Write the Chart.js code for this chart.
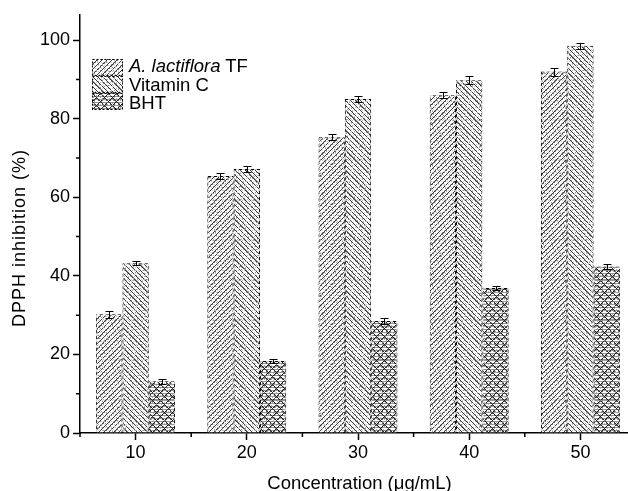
<!DOCTYPE html>
<html>
<head>
<meta charset="utf-8">
<script src="https://cdn.jsdelivr.net/npm/chart.js@4/dist/chart.umd.min.js"></script>
<style>
  html, body { margin:0; padding:0; background:#fff; overflow:hidden; }
  #wrap { position:relative; width:628px; height:491px; overflow:hidden; }
  #c { position:absolute; left:0; top:0; }
  .txt { position:absolute; font-family:'Liberation Sans', Arial, Helvetica, sans-serif; color:#000; white-space:nowrap; }
  .sw { position:absolute; }
</style>
</head>
<body>
<div id="wrap">
  <canvas id="c" width="640" height="500" style="width:640px;height:500px"></canvas>
  <div class="txt" id="ytitle"></div>
  <div class="txt" id="xtitle"></div>
  <div id="legend"></div>
</div>
<script>
// ---------- data ----------
const categories = ['10', '20', '30', '40', '50'];
const seriesNames = ['A. lactiflora TF', 'Vitamin C', 'BHT'];
const tfValues   = [30.2, 65.4, 75.3, 86.0, 92.0];
const tfErrors   = [0.8, 0.7, 0.8, 0.8, 1.0];
const vitCValues = [43.2, 67.2, 85.0, 89.8, 98.6];
const vitCErrors = [0.5, 0.8, 0.7, 1.0, 0.8];
const bhtValues  = [13.2, 18.3, 28.5, 36.9, 42.4];
const bhtErrors  = [0.6, 0.6, 0.7, 0.6, 0.6];
const yTickValues  = [0, 20, 40, 60, 80, 100];
const yMinorValues = [10, 30, 50, 70, 90];
const yMax = 106.4;
const xTitle = 'Concentration (\u03bcg/mL)';
const yTitle = 'DPPH inhibition (%)';

const FONT = "'Liberation Sans', Arial, Helvetica, sans-serif";

// ---------- patterns ----------
function tileCanvas(size, fn) {
  const cv = document.createElement('canvas');
  cv.width = size; cv.height = size;
  const c = cv.getContext('2d');
  const img = c.createImageData(size, size);
  for (let y = 0; y < size; y++) {
    for (let x = 0; x < size; x++) {
      const v = fn(x, y);
      const i = (y * size + x) * 4;
      img.data[i] = v[0]; img.data[i+1] = v[1]; img.data[i+2] = v[2]; img.data[i+3] = v[3];
    }
  }
  c.putImageData(img, 0, 0);
  return cv;
}
const W = [255,255,255,255];
function hatch(dir) {
  return tileCanvas(40, (x, y) => {
    const d = dir > 0 ? (x + y) % 5 : (x - y + 400) % 5;
    if (d === 0) return ((x * 7 + y * 13) % 9 === 0) ? [160,160,160,255] : [55,55,55,255];
    if (d === 1 && (x * 5 + y * 3) % 4 === 0) return [130,130,130,255];
    if ((x * 3 + y * 7) % 6 === 0) return [195,195,195,255];
    if ((x * 11 + y * 5) % 13 === 0) return [150,150,150,255];
    return W;
  });
}
function cross() {
  return tileCanvas(40, (x, y) => {
    const a = (x + y) % 8, b = (x - y + 400) % 8;
    if (a === 0 || b === 0) return ((x * 7 + y * 3) % 11 === 0) ? [120,120,120,255] : [30,30,30,255];
    if (a === 1 || b === 7) { if ((x + 2 * y) % 2 === 0) return [100,100,100,255]; }
    if ((x * 3 + y * 5) % 3 === 0) return [150,150,150,255];
    if ((x * 5 + y * 11) % 7 === 0) return [170,170,170,255];
    return W;
  });
}
function dashTile() {
  return tileCanvas(6, (x, y) => ((x + y) % 6) < 3 ? [0,0,0,255] : [200,200,200,255]);
}
const ctxMain = document.getElementById('c').getContext('2d');
const tiles = [hatch(1), hatch(-1), cross()];
const fills = tiles.map(t => ctxMain.createPattern(t, 'repeat'));
const borderPat = ctxMain.createPattern(dashTile(), 'repeat');

// ---------- plugins ----------
const errorBars = {
  id: 'errorBars',
  afterDatasetsDraw(chart) {
    const errs = [tfErrors, vitCErrors, bhtErrors];
    const ys = chart.scales.y;
    const c = chart.ctx;
    c.save();
    c.strokeStyle = '#000';
    c.lineWidth = 1;
    chart.data.datasets.forEach((ds, di) => {
      const meta = chart.getDatasetMeta(di);
      meta.data.forEach((bar, i) => {
        const v = ds.data[i], e = errs[di][i];
        const x = Math.round(bar.x) + 0.5;
        const y1 = Math.round(ys.getPixelForValue(v + e)) + 0.5;
        const y2 = Math.round(ys.getPixelForValue(v - e)) + 0.5;
        c.beginPath();
        c.moveTo(x, y1); c.lineTo(x, y2);
        c.moveTo(x - 4, y1); c.lineTo(x + 4, y1);
        c.moveTo(x - 4, y2); c.lineTo(x + 4, y2);
        c.stroke();
      });
    });
    c.restore();
  }
};
const minorTicks = {
  id: 'minorTicks',
  afterDraw(chart) {
    const c = chart.ctx, xs = chart.scales.x, ys = chart.scales.y;
    const a = chart.chartArea;
    c.save();
    c.strokeStyle = '#000';
    c.lineWidth = 1.5;
    c.beginPath();
    yMinorValues.forEach(v => {
      const y = ys.getPixelForValue(v);
      c.moveTo(a.left - 4, y); c.lineTo(a.left, y);
    });
    const n = categories.length;
    const step = xs.getPixelForValue(1) - xs.getPixelForValue(0);
    for (let i = 0; i <= n; i++) {
      const x = i < n ? xs.getPixelForValue(i) - step / 2 : xs.getPixelForValue(n - 1) + step / 2;
      c.moveTo(x, a.bottom); c.lineTo(x, a.bottom + 4);
    }
    c.stroke();
    c.restore();
  }
};

// ---------- chart ----------
const allValues = [tfValues, vitCValues, bhtValues];
new Chart(document.getElementById('c'), {
  type: 'bar',
  data: {
    labels: categories,
    datasets: seriesNames.map((name, i) => ({
      label: name,
      data: allValues[i],
      backgroundColor: fills[i],
      borderColor: borderPat,
      borderWidth: 1,
      categoryPercentage: 0.71,
      barPercentage: 1.0
    }))
  },
  options: {
    responsive: false,
    animation: false,
    devicePixelRatio: 1,
    layout: { padding: { top: 15, right: 4, left: 0, bottom: 0 } },
    plugins: { legend: { display: false }, tooltip: { enabled: false } },
    scales: {
      x: {
        offset: true,
        grid: { offset: false, drawOnChartArea: false, drawTicks: true, tickLength: 7, tickColor: '#000', tickWidth: 1.5 },
        border: { display: true, color: '#000', width: 1.5 },
        ticks: { font: { family: FONT, size: 18 }, color: '#000', padding: 2, maxRotation: 0 },
        afterFit: s => { s.height = 67; }
      },
      y: {
        min: 0, max: yMax,
        afterBuildTicks: s => { s.ticks = yTickValues.map(v => ({ value: v })); },
        grid: { drawOnChartArea: false, drawTicks: true, tickLength: 7, tickColor: '#000', tickWidth: 1.5 },
        border: { display: true, color: '#000', width: 1.5 },
        ticks: { font: { family: FONT, size: 18 }, color: '#000', padding: 3 },
        afterFit: s => { s.width = 80; }
      }
    }
  },
  plugins: [errorBars, minorTicks]
});

// ---------- axis titles ----------
const xt = document.getElementById('xtitle');
xt.textContent = xTitle;
xt.style.fontSize = '18.5px';
xt.style.lineHeight = '18.5px';
xt.style.left = '0px';
xt.style.width = '719px';
xt.style.textAlign = 'center';
xt.style.top = '473.5px';

const yt = document.getElementById('ytitle');
yt.textContent = yTitle;
yt.style.fontSize = '18px';
yt.style.lineHeight = '18px';
yt.style.letterSpacing = '1px';
yt.style.width = '300px';
yt.style.height = '18px';
yt.style.textAlign = 'center';
yt.style.left = (18.8 - 150) + 'px';
yt.style.top = (237.5 - 9) + 'px';
yt.style.transform = 'rotate(-90deg)';

// ---------- legend ----------
const lg = document.getElementById('legend');
const swTops = [59, 75.5, 92.5];
const txtTops = [56.5, 75.8, 94.3];
seriesNames.forEach((name, i) => {
  const sw = document.createElement('canvas');
  sw.className = 'sw';
  sw.width = 31; sw.height = 17;
  sw.style.left = '92px'; sw.style.top = swTops[i] + 'px';
  const c = sw.getContext('2d');
  c.fillStyle = c.createPattern(tiles[i], 'repeat');
  c.fillRect(0, 0, 31, 17);
  c.strokeStyle = '#000';
  c.lineWidth = 1;
  c.setLineDash([2, 2]);
  c.strokeRect(0.5, 0.5, 30, 16);
  lg.appendChild(sw);
  const t = document.createElement('div');
  t.className = 'txt';
  t.style.left = '129px';
  t.style.top = txtTops[i] + 'px';
  t.style.fontSize = '18.5px';
  t.style.lineHeight = '18.5px';
  if (i === 0) {
    const it = document.createElement('i');
    it.textContent = 'A. lactiflora';
    t.appendChild(it);
    t.appendChild(document.createTextNode(' TF'));
  } else {
    t.textContent = name;
  }
  lg.appendChild(t);
});
</script>
</body>
</html>
